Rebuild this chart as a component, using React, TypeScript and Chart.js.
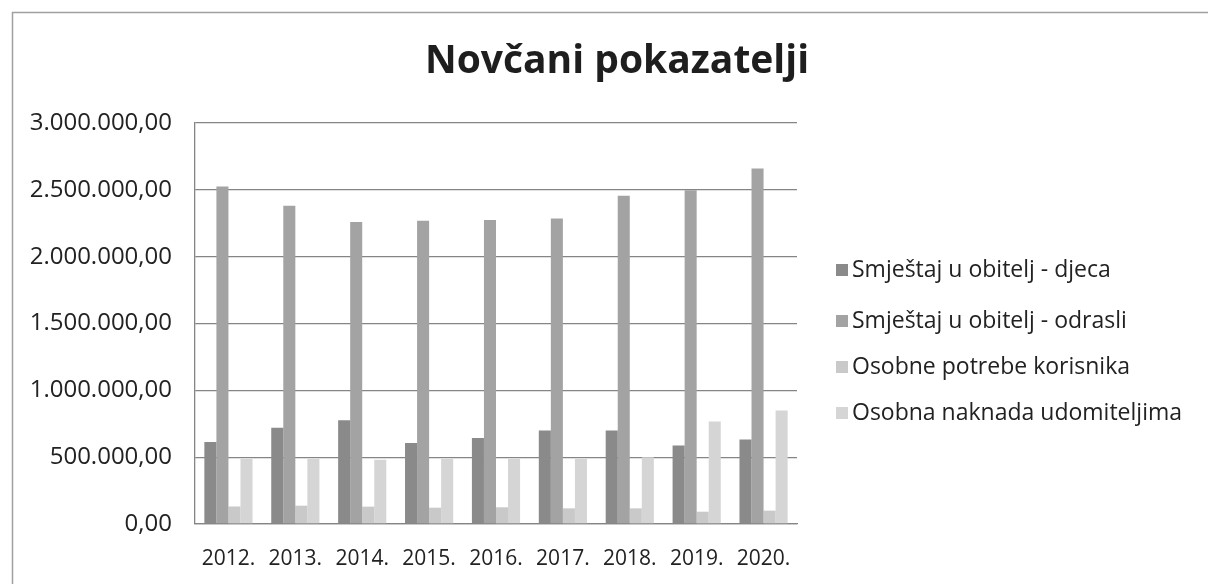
import React, { useEffect, useRef } from "react";
import { Chart, registerables } from "chart.js";

Chart.register(...registerables);

const TITLE = "Novčani pokazatelji";
const years = ["2012.", "2013.", "2014.", "2015.", "2016.", "2017.", "2018.", "2019.", "2020."];
const seriesNames = [
  "Smještaj u obitelj - djeca",
  "Smještaj u obitelj - odrasli",
  "Osobne potrebe korisnika",
  "Osobna naknada udomiteljima",
];
const djeca = [613000, 720000, 777000, 606000, 644000, 700000, 700000, 587000, 632000];
const odrasli = [2525000, 2380000, 2260000, 2268000, 2275000, 2285000, 2455000, 2497000, 2660000];
const potrebe = [131000, 137000, 130000, 122000, 125000, 117000, 117000, 92000, 100000];
const naknada = [486000, 486000, 480000, 486000, 487000, 486000, 500000, 767000, 850000];
const seriesColors = ["#8a8a8a", "#a3a3a3", "#c9c9c9", "#d5d5d5"];
const yTicks = [0, 500000, 1000000, 1500000, 2000000, 2500000, 3000000];

const FONT = "'Open Sans', 'Noto Sans', sans-serif";

function fmt(v: number): string {
  const s = Math.round(v).toString().replace(/\B(?=(\d{3})+(?!\d))/g, ".");
  return s + ",00";
}

const decorPlugin = {
  id: "decor",
  beforeDraw(chart: any) {
    const ctx = chart.ctx;
    ctx.save();
    ctx.fillStyle = "#ffffff";
    ctx.fillRect(0, 0, chart.width, chart.height);
    ctx.strokeStyle = "#a0a0a0";
    ctx.lineWidth = 1.5;
    ctx.beginPath();
    ctx.moveTo(12.5, chart.height);
    ctx.lineTo(12.5, 12.5);
    ctx.lineTo(chart.width, 12.5);
    ctx.stroke();
    ctx.restore();
  },
  afterDraw(chart: any) {
    const ctx = chart.ctx;
    ctx.save();
    ctx.fillStyle = "#1e1e1e";
    ctx.font = `bold 39px ${FONT}`;
    ctx.textAlign = "center";
    ctx.textBaseline = "middle";
    ctx.fillText(TITLE, 617, 62);

    ctx.font = `500 23px ${FONT}`;
    ctx.textAlign = "left";
    const rowY = [270, 321, 367, 413];
    chart.data.datasets.forEach((ds: any, i: number) => {
      const y = rowY[i];
      ctx.fillStyle = ds.backgroundColor;
      ctx.fillRect(836, y - 6, 12, 12);
      ctx.fillStyle = "#222222";
      ctx.fillText(ds.label, 852, y);
    });
    ctx.restore();
  },
};

export default function App() {
  const ref = useRef<HTMLCanvasElement | null>(null);
  useEffect(() => {
    if (!ref.current) return;
    const data = [djeca, odrasli, potrebe, naknada];
    const chart = new Chart(ref.current, {
      type: "bar",
      data: {
        labels: years,
        datasets: seriesNames.map((name, i) => ({
          label: name,
          data: data[i],
          backgroundColor: seriesColors[i],
          borderWidth: 0,
          barPercentage: 1,
          categoryPercentage: 0.72,
        })),
      },
      options: {
        responsive: false,
        animation: false,
        layout: { padding: { top: 123, left: 12, right: 411, bottom: 0 } },
        plugins: {
          legend: { display: false },
          title: { display: false },
          tooltip: { enabled: false },
        },
        scales: {
          y: {
            min: 0,
            max: 3000000,
            afterBuildTicks: (s: any) => {
              s.ticks = yTicks.map((v) => ({ value: v }));
            },
            afterFit: (s: any) => {
              s.width = 183;
            },
            ticks: {
              callback: (v: any) => fmt(Number(v)),
              font: { family: FONT, size: 24, weight: "500" },
              color: "#222222",
              padding: 23,
            },
            grid: { color: "#858585", lineWidth: 1.3, drawTicks: false },
            border: { color: "#858585", width: 1.3 },
          },
          x: {
            afterFit: (s: any) => {
              s.height = 60;
            },
            ticks: {
              font: { family: FONT, size: 21, weight: "500" },
              color: "#222222",
              padding: 22,
              maxRotation: 0,
              autoSkip: false,
            },
            grid: { display: false, drawTicks: false },
            border: { color: "#858585", width: 1.3 },
          },
        },
      },
      plugins: [decorPlugin],
    });
    return () => chart.destroy();
  }, []);
  return (
    <div style={{ position: "fixed", left: 0, top: 0, width: 1208, height: 584, background: "#fff" }}>
      <canvas ref={ref} width={1208} height={584} style={{ width: 1208, height: 584, display: "block" }} />
    </div>
  );
}
